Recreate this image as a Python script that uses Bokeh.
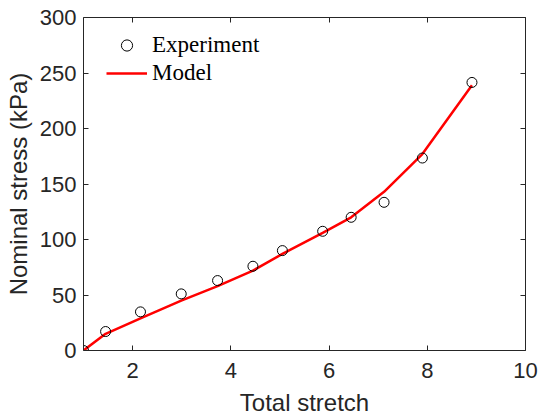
from bokeh.plotting import figure
from bokeh.models import Range1d, LinearAxis, FixedTicker, Legend, LegendItem
from bokeh.embed import file_html
from bokeh.resources import INLINE

# Data
stretch_exp = [1.0, 1.45, 2.16, 2.99, 3.73, 4.45, 5.05, 5.87, 6.45, 7.12, 7.90, 8.91]
stress_exp = [0.0, 17.1, 34.8, 51.0, 63.0, 75.9, 90.0, 107.4, 120.0, 133.5, 173.4, 241.5]

stretch_model = [1.0, 1.45, 2.16, 2.99, 3.73, 4.45, 5.05, 5.87, 6.45, 7.12, 7.90, 8.91]
stress_model = [0.0, 15.0, 29.0, 45.0, 58.0, 72.0, 87.0, 106.0, 120.0, 143.0, 177.0, 239.0]

x_ticks = [2, 4, 6, 8, 10]
y_ticks = [0, 50, 100, 150, 200, 250, 300]

AX = "#262626"
SANS = "Liberation Sans"
SERIF = "Liberation Serif"

p = figure(width=538, height=420, output_backend="svg", toolbar_location=None,
           x_range=Range1d(1, 10), y_range=Range1d(0, 300),
           min_border_left=83, min_border_right=13, min_border_top=17, min_border_bottom=70,
           x_axis_type=None, y_axis_type=None)
p.grid.visible = False
p.outline_line_color = None
p.background_fill_color = "white"
p.border_fill_color = "white"


def style(ax, ticks, labels=True):
    ax.axis_line_color = AX
    ax.axis_line_width = 1
    ax.major_tick_line_color = AX
    ax.major_tick_in = 5
    ax.major_tick_out = 0
    ax.minor_tick_line_color = None
    ax.major_label_text_color = AX
    ax.major_label_text_font = SANS
    ax.major_label_text_font_size = "22px"
    if not labels:
        ax.major_label_overrides = {t: "" for t in ticks}
        ax.major_label_standoff = 0
    ax.axis_label_text_font = SANS
    ax.axis_label_text_font_style = "normal"
    ax.axis_label_text_color = AX
    ax.axis_label_text_font_size = "24px"


xb = LinearAxis(ticker=FixedTicker(ticks=x_ticks), axis_label="Total stretch")
style(xb, x_ticks)
xb.major_label_standoff = 12
xb.axis_label_standoff = 8
p.add_layout(xb, "below")

xt = LinearAxis(ticker=FixedTicker(ticks=x_ticks))
style(xt, x_ticks, labels=False)
p.add_layout(xt, "above")

yl = LinearAxis(ticker=FixedTicker(ticks=y_ticks), axis_label="Nominal stress (kPa)")
style(yl, y_ticks)
yl.major_label_standoff = 7
yl.axis_label_standoff = 5
p.add_layout(yl, "left")

yr = LinearAxis(ticker=FixedTicker(ticks=y_ticks))
style(yr, y_ticks, labels=False)
p.add_layout(yr, "right")

model = p.line(stretch_model, stress_model, line_color="#FF0000", line_width=2.5)
exp = p.scatter(stretch_exp, stress_exp, marker="circle", size=10,
                fill_color=None, line_color="black", line_width=1)

legend = Legend(items=[LegendItem(label="Experiment", renderers=[exp]),
                       LegendItem(label="Model", renderers=[model])],
                location=(23, 263), padding=0, margin=0, spacing=0,
                glyph_width=41, glyph_height=28, label_height=28,
                label_standoff=5,
                label_text_font=SERIF, label_text_font_size="23px",
                label_text_color="black",
                border_line_color=None, background_fill_alpha=0)
p.add_layout(legend, "center")

open("out.html", "w").write(file_html(p, INLINE))
